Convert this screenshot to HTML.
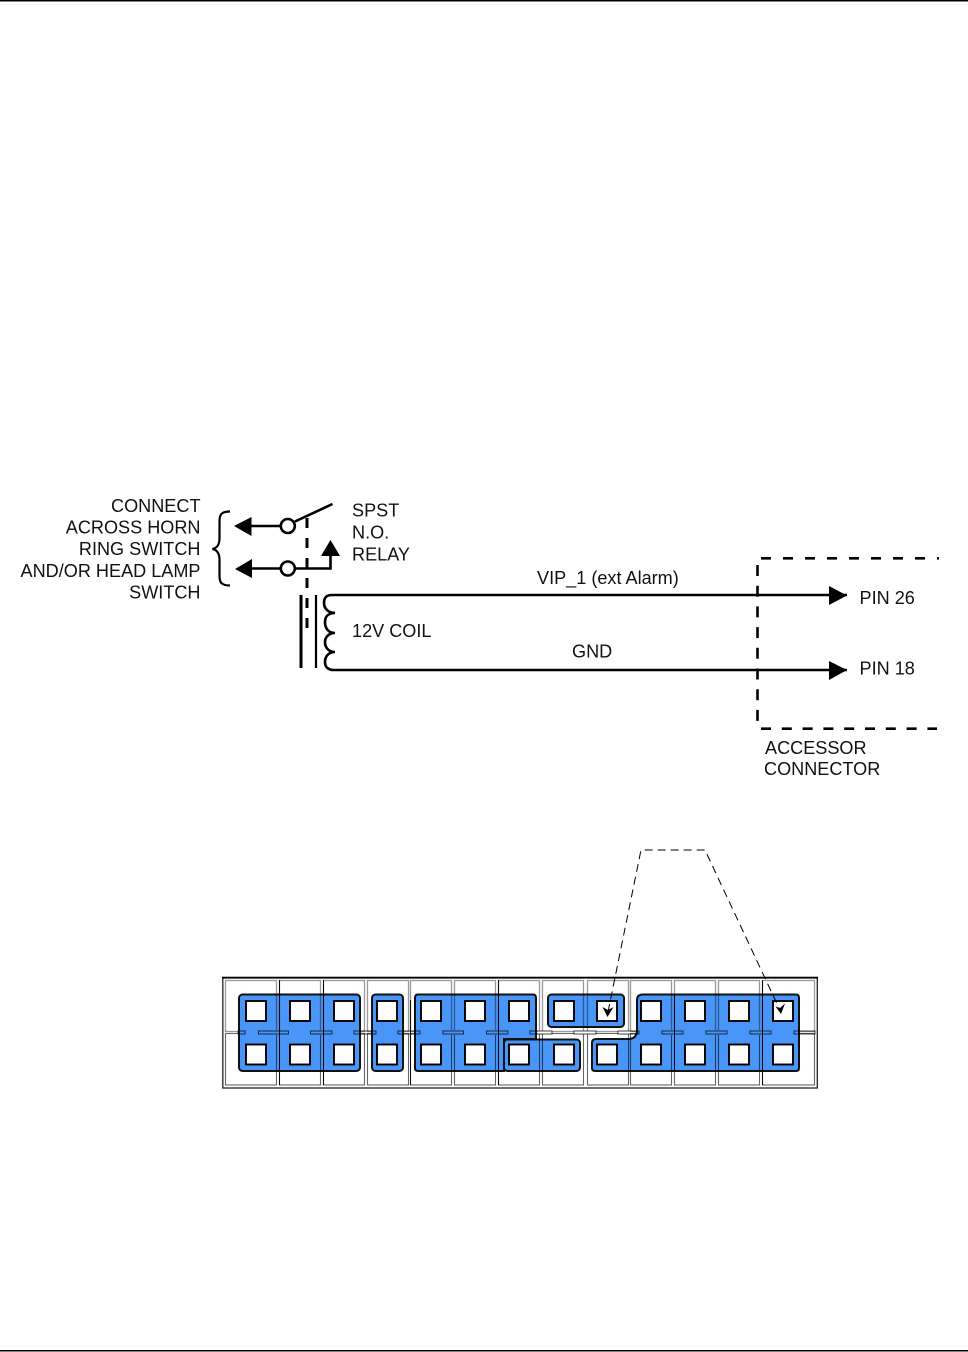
<!DOCTYPE html>
<html><head><meta charset="utf-8"><style>
html,body{margin:0;padding:0;background:#fff}
svg{display:block}
text{font-family:"Liberation Sans",sans-serif;font-size:18.1px;fill:#111}
.m{mix-blend-mode:multiply}
</style></head><body>
<svg width="968" height="1352" viewBox="0 0 968 1352" xmlns="http://www.w3.org/2000/svg">
<rect x="0" y="0" width="968" height="1.5" fill="#000"/>
<rect x="0" y="1350" width="968" height="1.5" fill="#000"/>

<g text-anchor="end">
<text x="200.500" y="512">CONNECT</text>
<text x="200.500" y="533.500">ACROSS HORN</text>
<text x="200.500" y="555">RING SWITCH</text>
<text x="200.500" y="577">AND/OR HEAD LAMP</text>
<text x="200.500" y="598.500">SWITCH</text>
</g>
<text x="352" y="516.500">SPST</text>
<text x="352" y="538.500">N.O.</text>
<text x="352" y="560.500">RELAY</text>
<text x="352" y="637">12V COIL</text>
<text x="537" y="584">VIP_1 (ext Alarm)</text>
<text x="572" y="657.500">GND</text>
<text x="859.500" y="604">PIN 26</text>
<text x="859.500" y="674.500">PIN 18</text>
<text x="765" y="754">ACCESSOR</text>
<text x="764" y="775">CONNECTOR</text>

<path d="M230 511.500 C222 511.500 219.500 514 219.500 521 L219.500 538 C219.500 545 217 548 212.500 549 C217 550 219.500 553 219.500 560 L219.500 576 C219.500 583 222 585.500 230 585.500" fill="none" stroke="#000" stroke-width="2.200"/>
<g stroke="#000" stroke-width="2.600" fill="none">
<path d="M248 526 H281"/>
<path d="M248 568.500 H281"/>
<path d="M294 568.500 H330.500 V552"/>
<path d="M295 521.500 L332.500 504"/>
<path d="M307 518 V631" stroke-width="3" stroke-dasharray="10 10"/>
<circle cx="287.800" cy="526" r="7" fill="#fff"/>
<circle cx="287.800" cy="568.500" r="7" fill="#fff"/>
<path d="M301 595 V668" stroke-width="3"/>
<path d="M316 595 V668" stroke-width="2.200"/>
<path d="M847 595 H332 C326 595 324 598 324 603 C324 609 329 613 335 613 C329 613 325 616 325 622 C325 629 329 633 335 633 C329 633 325 637 325 642 C325 648 329 652 335 652 C329 652 325 656 325 662 C325 667 328 670 334 670 H847"/>
</g>
<g fill="#000">
<polygon points="234,526 251.500,517 251.500,536"/>
<polygon points="235,569 252,559 252,578"/>
<polygon points="330.500,540 321,556 340,556"/>
<polygon points="847,595.500 829,586 829,605"/>
<polygon points="847,670 829,661 829,680"/>
</g>
<g fill="none" stroke="#000" stroke-width="2.600">
<path d="M761 558.300 H939" stroke-dasharray="10 12"/>
<path d="M761 728.700 H937" stroke-dasharray="10 10.800"/>
<path d="M757.500 565 V723" stroke-dasharray="11 9.700"/>
</g>

<rect x="222.800" y="977.500" width="594.500" height="110.500" fill="#fff" stroke="#222" stroke-width="1.300"/>
<rect x="222" y="976.800" width="596" height="1.800" fill="#000"/>

<g fill="#4a96f8" stroke="#111" stroke-width="2">
<rect x="239" y="994.500" width="121" height="76.500" rx="3.500"/>
<rect x="372" y="994.500" width="31" height="76.500" rx="3.500"/>
<path d="M418 994.500 H533 Q536 994.500 536 998 V1039 H504 V1071 H418 Q415 1071 415 1068 V998 Q415 994.500 418 994.500Z"/>
<rect x="504" y="1039.500" width="76" height="31.500" rx="3.500"/>
<rect x="548" y="994.500" width="76" height="32.500" rx="3.500"/>
<path d="M643 994.500 H796 Q799 994.500 799 998 V1068 Q799 1071 796 1071 H595 Q592 1071 592 1068 V1043 Q592 1039 596 1039 H628 Q637 1039 637 1030 V1000 Q637 994.500 643 994.500Z"/>
</g>

<g class="m" fill="none" stroke="#999" stroke-width="1.300">
<rect x="225.500" y="980.500" width="51" height="51"/><rect x="279.500" y="980.500" width="41" height="51"/><rect x="323.500" y="980.500" width="41" height="51"/><rect x="367.500" y="980.500" width="41" height="51"/><rect x="410.500" y="980.500" width="41" height="51"/><rect x="454.500" y="980.500" width="41" height="51"/><rect x="498.500" y="980.500" width="41" height="51"/><rect x="542.500" y="980.500" width="41" height="51"/><rect x="587.500" y="980.500" width="41" height="51"/><rect x="630.500" y="980.500" width="41" height="51"/><rect x="674.500" y="980.500" width="41" height="51"/><rect x="718.500" y="980.500" width="41" height="51"/><rect x="762.500" y="980.500" width="52" height="51"/>
</g>
<g class="m" fill="none" stroke="#666" stroke-width="1.100">
<rect x="225.500" y="1033.500" width="51" height="51.500"/><rect x="279.500" y="1033.500" width="41" height="51.500"/><rect x="323.500" y="1033.500" width="41" height="51.500"/><rect x="367.500" y="1033.500" width="41" height="51.500"/><rect x="410.500" y="1033.500" width="41" height="51.500"/><rect x="454.500" y="1033.500" width="41" height="51.500"/><rect x="498.500" y="1033.500" width="41" height="51.500"/><rect x="542.500" y="1033.500" width="41" height="51.500"/><rect x="587.500" y="1033.500" width="41" height="51.500"/><rect x="630.500" y="1033.500" width="41" height="51.500"/><rect x="674.500" y="1033.500" width="41" height="51.500"/><rect x="718.500" y="1033.500" width="41" height="51.500"/><rect x="762.500" y="1033.500" width="52" height="51.500"/>
</g>
<g fill="#4a96f8">
<rect x="240" y="1030" width="119" height="5"/><rect x="373" y="1030" width="29" height="5"/><rect x="416" y="1030" width="119" height="5"/><rect x="638" y="1030" width="160" height="5"/>
</g>
<g class="m" stroke="#111" stroke-width="1">
<path d="M279.500 980 V1085 M323.500 980 V1085 M410.500 1000 V1085 M498.500 980 V1085 M674.500 994 V1071 M762.500 980 V1085" fill="none"/>
</g>
<g fill="#fff">
<rect x="537.500" y="1031" width="14.500" height="3"/><rect x="574" y="1031" width="22" height="3"/><rect x="618" y="1031" width="12" height="3"/>
</g>
<g class="m" fill="none" stroke="#444" stroke-width="1">
<rect x="238" y="1031" width="7" height="3"/><rect x="258.500" y="1031" width="30" height="3"/><rect x="310.500" y="1031" width="21.500" height="3"/><rect x="354" y="1031" width="22" height="3"/><rect x="398" y="1031" width="22" height="3"/><rect x="443" y="1031" width="20.500" height="3"/><rect x="486.500" y="1031" width="21.500" height="3"/>
<rect x="530" y="1031" width="22" height="3"/><rect x="574" y="1031" width="22" height="3"/><rect x="618" y="1031" width="21" height="3"/><rect x="662" y="1031" width="21" height="3"/><rect x="706" y="1031" width="21" height="3"/><rect x="750" y="1031" width="21" height="3"/><rect x="794" y="1031" width="21" height="3"/>
</g>

<g fill="#fff" stroke="#000" stroke-width="1.900">
<rect x="246" y="1001" width="20" height="20"/><rect x="290" y="1001" width="20" height="20"/><rect x="334" y="1001" width="20" height="20"/><rect x="377" y="1001" width="20" height="20"/><rect x="421" y="1001" width="20" height="20"/><rect x="465" y="1001" width="20" height="20"/><rect x="509" y="1001" width="20" height="20"/><rect x="554" y="1001" width="20" height="20"/><rect x="597" y="1001" width="20" height="20"/><rect x="641" y="1001" width="20" height="20"/><rect x="685" y="1001" width="20" height="20"/><rect x="729" y="1001" width="20" height="20"/><rect x="773" y="1001" width="20" height="20"/>
<rect x="246" y="1044.500" width="20" height="20"/><rect x="290" y="1044.500" width="20" height="20"/><rect x="334" y="1044.500" width="20" height="20"/><rect x="377" y="1044.500" width="20" height="20"/><rect x="421" y="1044.500" width="20" height="20"/><rect x="465" y="1044.500" width="20" height="20"/><rect x="509" y="1044.500" width="20" height="20"/><rect x="554" y="1044.500" width="20" height="20"/><rect x="597" y="1044.500" width="20" height="20"/><rect x="641" y="1044.500" width="20" height="20"/><rect x="685" y="1044.500" width="20" height="20"/><rect x="729" y="1044.500" width="20" height="20"/><rect x="773" y="1044.500" width="20" height="20"/>
</g>

<path d="M608 1012 L641 850 H705 L779 1008" fill="none" stroke="#000" stroke-width="1" stroke-dasharray="8 5"/>
<polygon points="607.500,1017 602.500,1007 608,1010 613.500,1007" fill="#000"/>
<polygon points="781,1014 775.500,1006.500 780,1008 785,1003.500" fill="#000"/>
</svg>
</body></html>
